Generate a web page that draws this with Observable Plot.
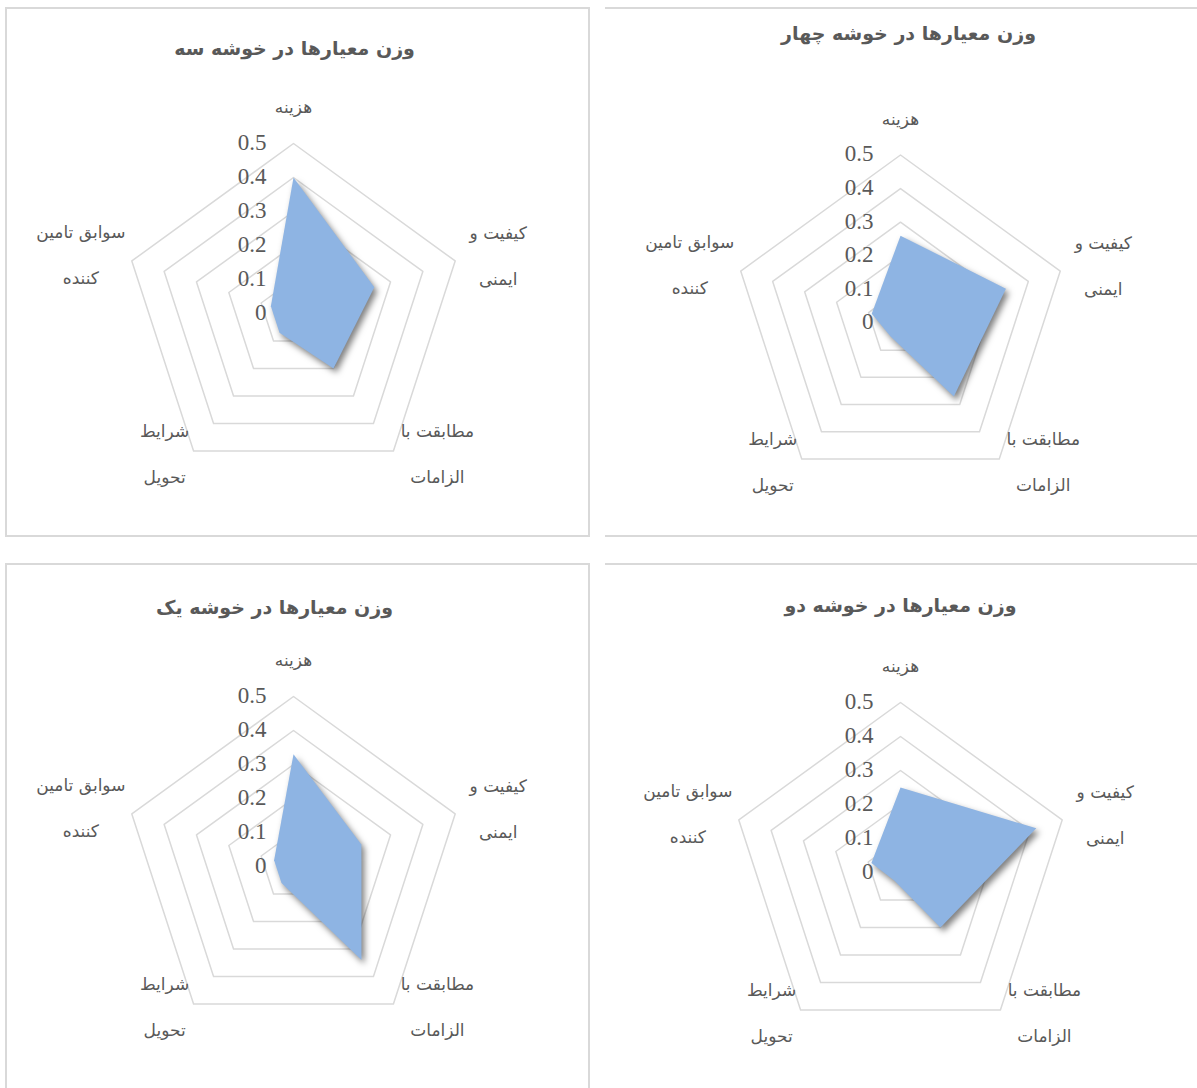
<!DOCTYPE html>
<html>
<head>
<meta charset="utf-8">
<script src="https://cdn.jsdelivr.net/npm/d3@7"></script>
<script src="https://cdn.jsdelivr.net/npm/@observablehq/plot@0.6"></script>
<style>
  body { margin: 0; background: #ffffff; }
  #page { position: relative; width: 1197px; height: 1088px; overflow: hidden; background: #fff; }
  .panel { position: absolute; }
  .panel svg { display: block; position: absolute; left: 0; top: 0; }
  .frame { position: absolute; box-sizing: border-box; pointer-events: none; }
</style>
</head>
<body>
<div id="page"></div>
<script>
// ---------------- DATA ----------------
const categories = ["هزینه", "کیفیت و ایمنی", "مطابقت با الزامات", "شرایط تحویل", "سوابق تامین کننده"];
const categoryLabels = ["هزینه", "کیفیت و\nایمنی", "مطابقت با\nالزامات", "شرایط\nتحویل", "سوابق تامین\nکننده"];
const tickValues = [0, 0.1, 0.2, 0.3, 0.4, 0.5];
const tickLabels = ["0", "0.1", "0.2", "0.3", "0.4", "0.5"];
const chartTitles = [
  "وزن معیارها در خوشه سه",
  "وزن معیارها در خوشه چهار",
  "وزن معیارها در خوشه یک",
  "وزن معیارها در خوشه دو"
];
const weightsCluster3 = [0.40, 0.25, 0.20, 0.07, 0.07];
const weightsCluster4 = [0.26, 0.33, 0.27, 0.05, 0.09];
const weightsCluster1 = [0.33, 0.21, 0.34, 0.06, 0.06];
const weightsCluster2 = [0.25, 0.42, 0.20, 0.03, 0.09];

// ---------------- LAYOUT ----------------
const panels = [
  {title: chartTitles[0], values: weightsCluster3, left: 5, top: 7, width: 585, height: 530, cx: 288, cy: 306, R: 170,
   titleX: 289, titleY: 41, border: {top: 1, right: 1, bottom: 1, left: 1}},
  {title: chartTitles[1], values: weightsCluster4, left: 605, top: 7, width: 600, height: 530, cx: 295, cy: 315.5, R: 168,
   titleX: 303, titleY: 26, border: {top: 1, right: 0, bottom: 1, left: 0}},
  {title: chartTitles[2], values: weightsCluster1, left: 5, top: 563, width: 585, height: 540, cx: 288, cy: 303, R: 170,
   titleX: 269, titleY: 44, border: {top: 1, right: 1, bottom: 1, left: 1}},
  {title: chartTitles[3], values: weightsCluster2, left: 605, top: 563, width: 600, height: 540, cx: 295, cy: 309, R: 170,
   titleX: 295, titleY: 42, border: {top: 1, right: 0, bottom: 0, left: 0}}
];
// label offsets (px) from the outer vertex of each axis
const labelOffsets = [[0, -45], [43, -14], [44, -6], [-29, -5.5], [-51, -14.5]];

const GRID = "#d9d9d9";
const TEXT = "#595959";
const FILL = "#8eb4e3";
const ARABIC_FONT = "'DejaVu Sans', 'Noto Sans', sans-serif";
const NUM_FONT = "'Liberation Serif', 'DejaVu Serif', serif";

const n = categories.length;
const angle = i => (2 * Math.PI * i) / n; // clockwise from top
const maxTick = d3.max(tickValues);

const page = document.getElementById("page");

panels.forEach(p => {
  const K = (p.R / maxTick); // px per value unit
  const xDomain = [-p.cx / K, (p.width - p.cx) / K];
  const yDomain = [-(p.height - p.cy) / K, p.cy / K];

  const ringPts = [];
  tickValues.filter(t => t > 0).forEach(t => {
    categories.forEach((c, i) => ringPts.push({ring: t, x: t * Math.sin(angle(i)), y: t * Math.cos(angle(i))}));
  });
  const areaPts = p.values.map((v, i) => ({cat: categories[i], x: v * Math.sin(angle(i)), y: v * Math.cos(angle(i))}));

  const labelMarks = categories.map((c, i) => Plot.text([i], {
    x: () => maxTick * Math.sin(angle(i)),
    y: () => maxTick * Math.cos(angle(i)),
    text: () => categoryLabels[i],
    dx: labelOffsets[i][0], dy: labelOffsets[i][1],
    textAnchor: "middle", lineAnchor: "middle", lineHeight: 2.7,
    fontSize: 17, fontFamily: ARABIC_FONT, fill: TEXT
  }));

  const chart = Plot.plot({
    width: p.width, height: p.height,
    margin: 0,
    style: {background: "transparent", overflow: "visible"},
    x: {domain: xDomain, axis: null},
    y: {domain: yDomain, axis: null},
    marks: [
      Plot.line(ringPts, {x: "x", y: "y", z: "ring", curve: "linear-closed", stroke: GRID, strokeWidth: 1.5}),
      Plot.line(areaPts, {x: "x", y: "y", curve: "linear-closed", fill: FILL, stroke: "none"}),
      Plot.text(tickValues, {
        x: () => 0, y: d => d, text: (d, i) => tickLabels[i],
        textAnchor: "end", dx: -27, dy: -1, fontSize: 23, fontFamily: NUM_FONT, fill: TEXT
      }),
      ...labelMarks,
      Plot.text([p.title], {
        frameAnchor: "top-left", dx: p.titleX, dy: p.titleY, text: d => d,
        textAnchor: "middle", lineAnchor: "middle",
        fontSize: 19, fontWeight: "bold", fontFamily: ARABIC_FONT, fill: TEXT
      })
    ]
  });

  chart.querySelectorAll(`[fill="${FILL}"]`).forEach(el => {
    el.style.filter = "drop-shadow(3px 4px 3px rgba(0,0,0,0.5))";
  });

  const div = document.createElement("div");
  div.className = "panel";
  Object.assign(div.style, {left: p.left + "px", top: p.top + "px", width: p.width + "px", height: p.height + "px"});
  div.appendChild(chart);
  const frame = document.createElement("div");
  frame.className = "frame";
  Object.assign(frame.style, {
    left: 0, top: 0, width: p.width + "px", height: p.height + "px",
    borderStyle: "solid", borderColor: GRID,
    borderTopWidth: (p.border.top ? 2 : 0) + "px",
    borderRightWidth: (p.border.right ? 2 : 0) + "px",
    borderBottomWidth: (p.border.bottom ? 2 : 0) + "px",
    borderLeftWidth: (p.border.left ? 2 : 0) + "px"
  });
  div.appendChild(frame);
  page.appendChild(div);
});
</script>
</body>
</html>
